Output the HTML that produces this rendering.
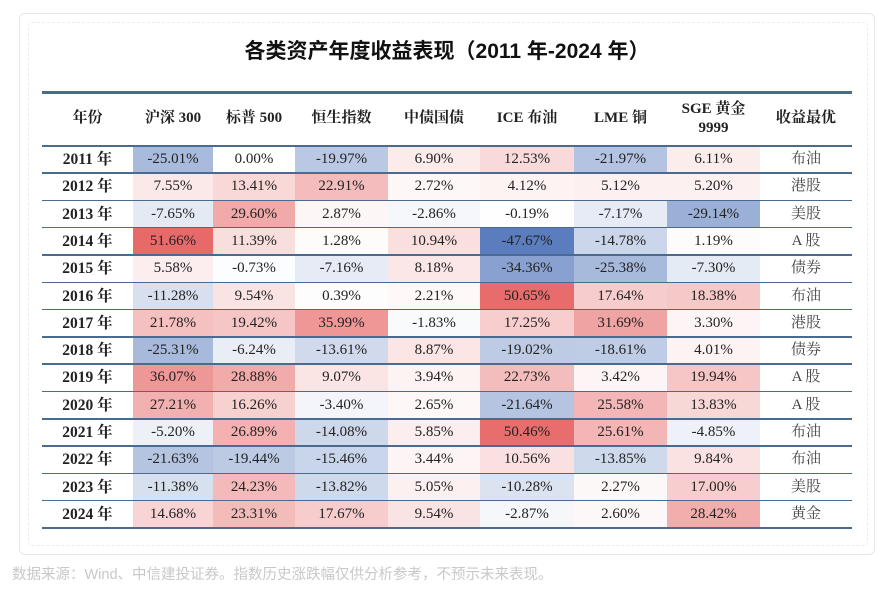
<!DOCTYPE html>
<html><head><meta charset="utf-8">
<style>
body{margin:0;width:894px;height:598px;background:#fff;position:relative;overflow:hidden;font-family:"Liberation Serif","Noto Serif CJK SC",serif;}
#card{position:absolute;left:19px;top:13px;width:856px;height:542px;border:1.5px solid #e6e6e6;border-radius:6px;box-sizing:border-box;}
#dash{position:absolute;left:28px;top:22px;width:840px;height:524px;border:1.5px dashed #ececec;border-radius:4px;box-sizing:border-box;}
#title{position:absolute;left:0;width:894px;top:35px;text-align:center;font-family:"Liberation Sans","Noto Sans CJK SC",sans-serif;font-weight:bold;font-size:21px;color:#111;}
#tbl{position:absolute;left:42px;top:91px;}
.cell{position:absolute;text-align:center;font-size:15px;color:#222;box-sizing:border-box;}
.hd{font-weight:bold;font-size:15px;color:#222;display:flex;align-items:center;justify-content:center;line-height:19px;}
.ln{position:absolute;left:0;width:810px;background:#4a6a90;}
#note{position:absolute;left:12px;top:563px;font-family:"Liberation Sans","Noto Sans CJK SC",sans-serif;font-size:14.5px;color:#c8c8c8;}
</style></head><body>
<div id="card"></div>
<div id="dash"></div>
<div id="title">各类资产年度收益表现（2011 年-2024 年）</div>
<div id="tbl"></div>
<div id="note">数据来源：Wind、中信建投证券。指数历史涨跌幅仅供分析参考，不预示未来表现。</div>
<script>
const headers=["年份","沪深 300","标普 500","恒生指数","中债国债","ICE 布油","LME 铜","SGE 黄金<br>9999","收益最优"];
const years=["2011 年","2012 年","2013 年","2014 年","2015 年","2016 年","2017 年","2018 年","2019 年","2020 年","2021 年","2022 年","2023 年","2024 年"];
const hs300=[-25.01,7.55,-7.65,51.66,5.58,-11.28,21.78,-25.31,36.07,27.21,-5.20,-21.63,-11.38,14.68];
const sp500=[0.00,13.41,29.60,11.39,-0.73,9.54,19.42,-6.24,28.88,16.26,26.89,-19.44,24.23,23.31];
const hsi=[-19.97,22.91,2.87,1.28,-7.16,0.39,35.99,-13.61,9.07,-3.40,-14.08,-15.46,-13.82,17.67];
const bond=[6.90,2.72,-2.86,10.94,8.18,2.21,-1.83,8.87,3.94,2.65,5.85,3.44,5.05,9.54];
const brent=[12.53,4.12,-0.19,-47.67,-34.36,50.65,17.25,-19.02,22.73,-21.64,50.46,10.56,-10.28,-2.87];
const copper=[-21.97,5.12,-7.17,-14.78,-25.38,17.64,31.69,-18.61,3.42,25.58,25.61,-13.85,2.27,2.60];
const gold=[6.11,5.20,-29.14,1.19,-7.30,18.38,3.30,4.01,19.94,13.83,-4.85,9.84,17.00,28.42];
const best=["布油","港股","美股","A 股","债券","布油","港股","债券","A 股","A 股","布油","布油","美股","黄金"];
const series=[hs300,sp500,hsi,bond,brent,copper,gold];
const colX=[0,91,171,253,346,438,532,625,718,810];
const headH=55, rowH=27.3;
const tbl=document.getElementById('tbl');
function color(v){
  let t,r,g,b;
  if(v>=0){t=Math.min(v/52,1);r=255+(232-255)*t;g=255+(105-255)*t;b=255+(105-255)*t;}
  else{t=Math.min(-v/48,1);r=255+(90-255)*t;g=255+(125-255)*t;b=255+(190-255)*t;}
  return `rgb(${r|0},${g|0},${b|0})`;
}
function mk(cls,x,y,w,h,html,bg,name){
  const d=document.createElement('div');
  d.className=cls;
  d.style.left=x+'px';d.style.top=y+'px';d.style.width=w+'px';d.style.height=h+'px';
  if(!cls.includes('hd'))d.style.lineHeight=h+'px';
  if(bg)d.style.background=bg;
  d.innerHTML=html;
  
  
  tbl.appendChild(d);
}
headers.forEach((h,i)=>mk('cell hd',colX[i],0,colX[i+1]-colX[i],headH,h,null,'header-'+i));
years.forEach((y,r)=>{
  const top=headH+r*rowH;
  mk('cell',colX[0],top,colX[1]-colX[0],rowH,y,null,'year-label');
  tbl.lastChild.style.fontWeight='bold';
  tbl.lastChild.style.fontSize='15.5px';
  series.forEach((s,c)=>mk('cell',colX[c+1],top,colX[c+2]-colX[c+1],rowH,s[r].toFixed(2)+'%',color(s[r]),'heat-cell'));
  mk('cell',colX[8],top,colX[9]-colX[8],rowH,best[r],null,'best-asset');
  tbl.lastChild.style.color='#444';
});
function line(y,h){
  const l=document.createElement('div');
  l.className='ln';l.style.top=y+'px';l.style.height=h+'px';
  
  
  tbl.appendChild(l);
}
line(0,2.5);
for(let r=0;r<=years.length;r++)line(headH+r*rowH-1,1.6);
</script>
</body></html>
